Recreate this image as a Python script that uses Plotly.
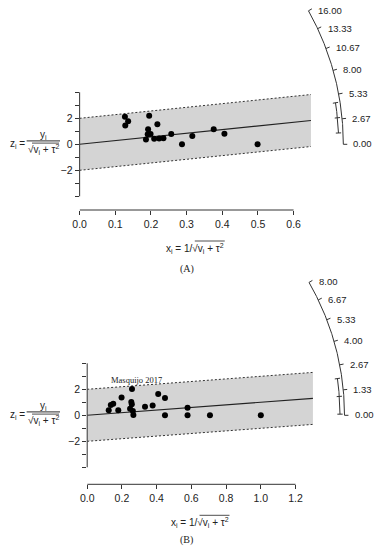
import numpy as np
import plotly.graph_objects as go

W, H = 379, 550

# ---------------- data: panel A ----------------
xa = [0.127, 0.128, 0.136, 0.195, 0.192, 0.218, 0.191, 0.199, 0.186, 0.209, 0.223, 0.235, 0.257, 0.287, 0.316, 0.376, 0.406, 0.499]
za = [2.12, 1.44, 1.78, 2.20, 1.15, 1.55, 0.78, 0.79, 0.36, 0.42, 0.45, 0.46, 0.79, 0.00, 0.64, 1.15, 0.82, 0.00]
est_a = 2.82
ci_a = [1.20, 4.45]
arc_vals_a = [0.00, 2.67, 5.33, 8.00, 10.67, 13.33, 16.00]
arc_text_a = ["0.00", "2.67", "5.33", "8.00", "10.67", "13.33", "16.00"]
xtick_vals_a = [0.0, 0.1, 0.2, 0.3, 0.4, 0.5, 0.6]
xtick_text_a = ["0.0", "0.1", "0.2", "0.3", "0.4", "0.5", "0.6"]

# ---------------- data: panel B ----------------
xb = [0.124, 0.136, 0.150, 0.179, 0.198, 0.258, 0.254, 0.257, 0.247, 0.263, 0.266, 0.333, 0.377, 0.409, 0.448, 0.448, 0.578, 0.578, 0.707, 1.000]
zb = [0.38, 0.80, 0.88, 0.38, 1.36, 2.03, 1.02, 0.85, 0.50, 0.33, 0.02, 0.66, 0.75, 1.63, 1.33, 0.00, 0.58, 0.00, 0.00, 0.00]
est_b = 1.00
ci_b = [0.06, 1.96]
arc_vals_b = [0.00, 1.33, 2.67, 4.00, 5.33, 6.67, 8.00]
arc_text_b = ["0.00", "1.33", "2.67", "4.00", "5.33", "6.67", "8.00"]
xtick_vals_b = [0.0, 0.2, 0.4, 0.6, 0.8, 1.0, 1.2]
xtick_text_b = ["0.0", "0.2", "0.4", "0.6", "0.8", "1.0", "1.2"]
label_b = "Masquijo 2017"
label_b_pos = (0.284, 2.68)

ytick_major = [-2, 0, 2]
ytick_major_text = ["\u22122", "0", "2"]
ytick_minor = [-4, -3, -1, 1, 3, 4]
captions = ["(A)", "(B)"]

SANS = "Liberation Sans, Arial, Helvetica, sans-serif"
SERIF = "Liberation Serif, Times New Roman, serif"
AX = "#333333"
LBL = 10

fig = go.Figure()
layout_axes = {}
shapes = []
annotations = []


def px_x(p):
    return p / W


def px_y(p):
    return 1 - p / H


def add_panel(k, xs, zs, est, ci, arc_vals, arc_text, xtv, xtt,
              ox, oy, sx, sz, ytop, ybot, xline_px, caption, cap_y):
    xn = "x" if k == 1 else "x%d" % k
    yn = "y" if k == 1 else "y%d" % k
    xr = [0, (W - ox) / sx]
    yr = [(oy - ybot) / sz, (oy - ytop) / sz]
    xdom = [px_x(ox), 1.0]
    ydom = [px_y(ybot), px_y(ytop)]
    SX = (xdom[1] - xdom[0]) * W / (xr[1] - xr[0])
    SZ = (ydom[1] - ydom[0]) * H / (yr[1] - yr[0])
    a = SZ / SX
    xlim = 1.3 * max(xs)
    arc_len = 1.14 * xlim
    ci_len = 1.12 * xlim

    layout_axes["xaxis" if k == 1 else "xaxis%d" % k] = dict(
        domain=xdom, range=xr, anchor="free", position=px_y(xline_px),
        showgrid=False, zeroline=False, showline=False,
        tickmode="array", tickvals=xtv, ticktext=xtt,
        ticks="outside", ticklen=4, tickwidth=1, tickcolor=AX,
        tickfont=dict(family=SANS, size=10.5, color="#222"), fixedrange=True)
    layout_axes["yaxis" if k == 1 else "yaxis%d" % k] = dict(
        domain=ydom, range=yr, anchor=xn,
        showgrid=False, zeroline=False, showline=False,
        tickmode="array", tickvals=ytick_major, ticktext=ytick_major_text,
        ticks="outside", ticklen=4, tickwidth=1, tickcolor=AX,
        minor=dict(tickmode="array", tickvals=ytick_minor, ticks="outside",
                   ticklen=4, tickwidth=1, tickcolor=AX, showgrid=False),
        tickfont=dict(family=SANS, size=10.5, color="#222"), fixedrange=True)

    fig.add_trace(go.Scatter(x=[0, xlim, xlim, 0], y=[2, est * xlim + 2, est * xlim - 2, -2],
                             fill="toself", fillcolor="#d4d4d4", line=dict(width=0),
                             mode="lines", hoverinfo="skip", xaxis=xn, yaxis=yn))
    for s in (2, -2):
        fig.add_trace(go.Scatter(x=[0, xlim], y=[s, est * xlim + s], mode="lines",
                                 line=dict(color="#333", width=1, dash="2px,2px"),
                                 xaxis=xn, yaxis=yn))
    fig.add_trace(go.Scatter(x=[0, xlim], y=[0, est * xlim], mode="lines",
                             line=dict(color="#222", width=1.1), xaxis=xn, yaxis=yn))
    fig.add_trace(go.Scatter(x=xs, y=zs, mode="markers",
                             marker=dict(color="black", size=6), xaxis=xn, yaxis=yn))

    b = np.linspace(arc_vals[0], arc_vals[-1], 200)
    ax_ = arc_len / np.sqrt(1 + (a * b) ** 2)
    fig.add_trace(go.Scatter(x=ax_, y=b * ax_, mode="lines",
                             line=dict(color="#333", width=1), xaxis=xn, yaxis=yn))
    tx, ty = [], []
    for v, t in zip(arc_vals, arc_text):
        th = np.arctan(a * v)
        x0 = arc_len / np.sqrt(1 + (a * v) ** 2)
        z0 = v * x0
        tx += [x0, x0 + 4 * np.cos(th) / SX, None]
        ty += [z0, z0 + 4 * np.sin(th) / SZ, None]
        annotations.append(dict(x=x0, y=z0, xref=xn, yref=yn, text=t, showarrow=False,
                                xanchor="left", yanchor="middle", xshift=8, yshift=0.5,
                                font=dict(family=SANS, size=9.5, color="#222")))
    fig.add_trace(go.Scatter(x=tx, y=ty, mode="lines", line=dict(color="#333", width=1),
                             xaxis=xn, yaxis=yn))

    bc = np.linspace(ci[0], ci[1], 50)
    cx = ci_len / np.sqrt(1 + (a * bc) ** 2)
    fig.add_trace(go.Scatter(x=cx, y=bc * cx, mode="lines",
                             line=dict(color="#333", width=1), xaxis=xn, yaxis=yn))
    tx, ty = [], []
    for v in (ci[0], est, ci[1]):
        th = np.arctan(a * v)
        x0 = ci_len / np.sqrt(1 + (a * v) ** 2)
        z0 = v * x0
        tx += [x0 - 2.7 * np.cos(th) / SX, x0 + 2.7 * np.cos(th) / SX, None]
        ty += [z0 - 2.7 * np.sin(th) / SZ, z0 + 2.7 * np.sin(th) / SZ, None]
    fig.add_trace(go.Scatter(x=tx, y=ty, mode="lines", line=dict(color="#333", width=1),
                             xaxis=xn, yaxis=yn))

    shapes.append(dict(type="line", xref=xn, yref="paper", x0=xtv[0], x1=xtv[-1],
                       y0=px_y(xline_px), y1=px_y(xline_px), line=dict(color=AX, width=1)))
    shapes.append(dict(type="line", xref="paper", yref=yn, x0=xdom[0], x1=xdom[0],
                       y0=ytick_minor[0], y1=ytick_minor[-1], line=dict(color=AX, width=1)))

    # x axis title
    xc_px = ox + SX * xlim / 2
    ty_px = xline_px + 38
    annotations.append(dict(x=px_x(xc_px), y=px_y(ty_px), xref="paper", yref="paper",
                            text="x<sub>i</sub> = 1/\u221av<sub>i</sub> + \u03c4<sup>2</sup>",
                            showarrow=False, xanchor="center", yanchor="middle",
                            font=dict(family=SANS, size=LBL, color="#222")))
    shapes.append(dict(type="line", xref="paper", yref="paper",
                       x0=px_x(xc_px - 0.5), x1=px_x(xc_px + 30),
                       y0=px_y(ty_px - 7), y1=px_y(ty_px - 7), line=dict(color="#222", width=0.8)))

    # y axis title
    annotations.append(dict(x=px_x(11), y=px_y(oy), xref="paper", yref="paper",
                            text="z<sub>i</sub> =", showarrow=False, xanchor="center",
                            yanchor="middle", font=dict(family=SANS, size=LBL, color="#222")))
    annotations.append(dict(x=px_x(37), y=px_y(oy - 9), xref="paper", yref="paper",
                            text="y<sub>i</sub>", showarrow=False, xanchor="center",
                            yanchor="middle", font=dict(family=SANS, size=LBL, color="#222")))
    shapes.append(dict(type="line", xref="paper", yref="paper", x0=px_x(20), x1=px_x(54),
                       y0=px_y(oy - 3.5), y1=px_y(oy - 3.5), line=dict(color="#555", width=1.2)))
    annotations.append(dict(x=px_x(37), y=px_y(oy + 5.5), xref="paper", yref="paper",
                            text="\u221av<sub>i</sub> + \u03c4<sup>2</sup>", showarrow=False,
                            xanchor="center", yanchor="middle",
                            font=dict(family=SANS, size=LBL, color="#222")))
    shapes.append(dict(type="line", xref="paper", yref="paper", x0=px_x(25.5), x1=px_x(53),
                       y0=px_y(oy - 1.2), y1=px_y(oy - 1.2), line=dict(color="#222", width=0.8)))

    annotations.append(dict(x=px_x(183), y=px_y(cap_y), xref="paper", yref="paper",
                            text=caption, showarrow=False, xanchor="center", yanchor="middle",
                            font=dict(family=SERIF, size=10, color="#222")))
    return xn, yn


add_panel(1, xa, za, est_a, ci_a, arc_vals_a, arc_text_a, xtick_vals_a, xtick_text_a,
          ox=74, oy=144.3, sx=363.3, sz=13, ytop=0, ybot=260, xline_px=210,
          caption=captions[0], cap_y=269)
xn, yn = add_panel(2, xb, zb, est_b, ci_b, arc_vals_b, arc_text_b, xtick_vals_b, xtick_text_b,
                   ox=81.7, oy=415.3, sx=176.9, sz=13, ytop=272, ybot=500, xline_px=484.3,
                   caption=captions[1], cap_y=540)

annotations.append(dict(x=label_b_pos[0], y=label_b_pos[1], xref=xn, yref=yn, text=label_b,
                        showarrow=False, xanchor="center", yanchor="middle",
                        font=dict(family=SERIF, size=8.5, color="#222")))

fig.update_layout(width=W, height=H, margin=dict(l=0, r=0, t=0, b=0),
                  paper_bgcolor="white", plot_bgcolor="white", showlegend=False,
                  shapes=shapes, annotations=annotations, **layout_axes)
fig.write_html("out.html", config={"displayModeBar": False},
               post_script="document.body.style.margin='0px';document.body.style.overflow='hidden';")
